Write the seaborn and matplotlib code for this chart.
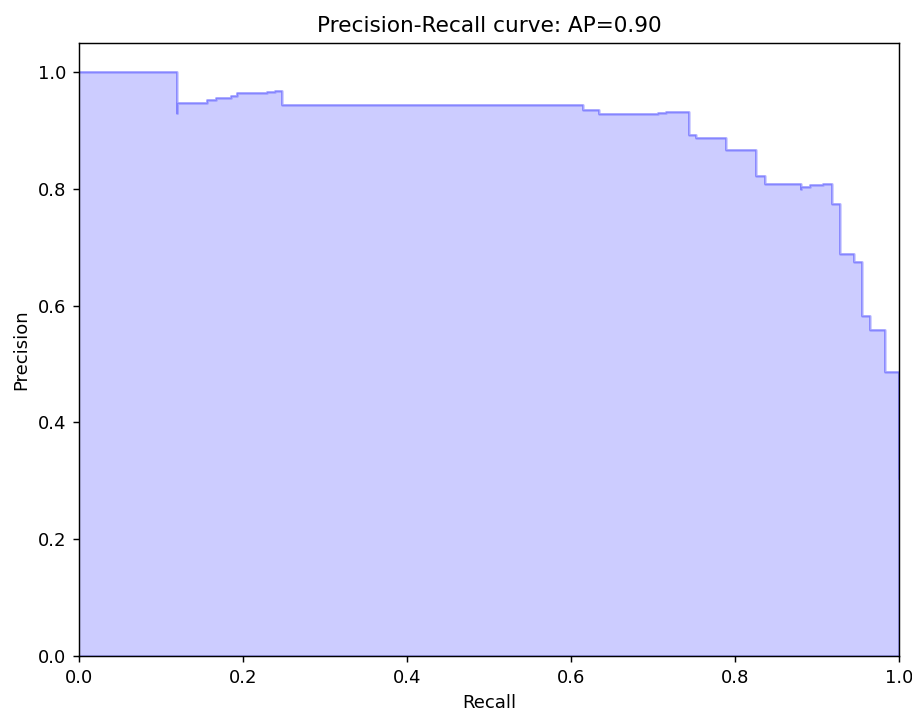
import matplotlib
matplotlib.use("Agg")
import matplotlib.pyplot as plt
import seaborn as sns
import numpy as np

# Precision-recall points (recall decreasing, as produced by precision_recall_curve)
recall = [1.0, 1.0, 0.983, 0.9646, 0.955, 0.9455, 0.928, 0.918, 0.9077, 0.891,
          0.881, 0.881, 0.8366, 0.8256, 0.789, 0.753, 0.7435, 0.716, 0.7065,
          0.6345, 0.615, 0.248, 0.239, 0.2297, 0.193, 0.185, 0.1667, 0.1565,
          0.119, 0.119, 0.0]
precision = [0.305, 0.487, 0.559, 0.582, 0.675, 0.688, 0.775, 0.809, 0.806, 0.803,
             0.800, 0.809, 0.823, 0.867, 0.888, 0.8925, 0.9326, 0.9307, 0.9285,
             0.9353, 0.9444, 0.968, 0.9665, 0.9635, 0.9593, 0.9554, 0.9525, 0.948,
             0.930, 1.0, 1.0]
title = "Precision-Recall curve: AP=0.90"

DPI = 130
fig = plt.figure(figsize=(912 / DPI, 709 / DPI), dpi=DPI)
ax = fig.add_axes([79/912, 1 - 656/709, (899-79)/912, (656-43)/709])

sns.lineplot(x=recall, y=precision, sort=False, estimator=None,
             drawstyle="steps-post", color="b", alpha=0.2, ax=ax)
ax.fill_between(recall, precision, step="post", alpha=0.2, color="b")

ax.set_xlabel("Recall")
ax.set_ylabel("Precision")
ax.set_ylim(0.0, 1.05)
ax.set_xlim(0.0, 1.0)
ax.set_title(title)

fig.savefig("out.png", dpi=DPI)
